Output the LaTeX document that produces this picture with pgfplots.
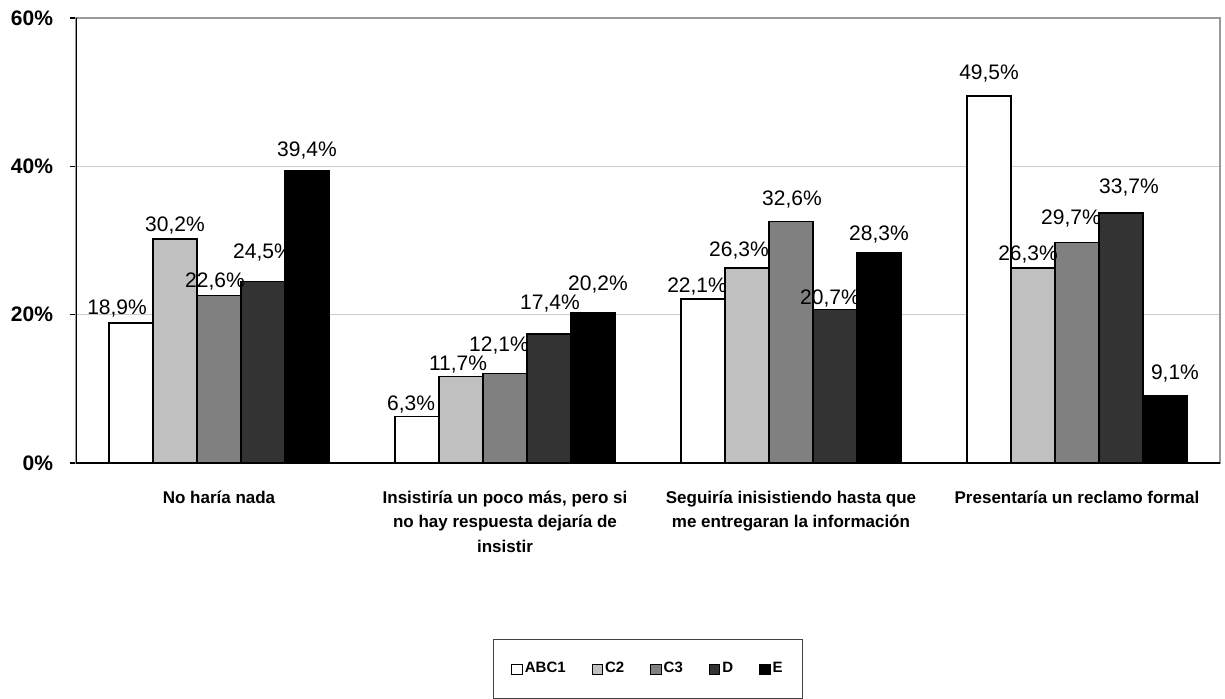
\documentclass[border=0pt]{standalone}
\usepackage{pgfplots}
\pgfplotsset{compat=1.18}
\usepackage{fontspec}
\setmainfont{Liberation Sans}

\definecolor{cC2}{HTML}{C0C0C0}
\definecolor{cC3}{HTML}{808080}
\definecolor{cD}{HTML}{333333}

\begin{document}
\begin{tikzpicture}
% 1 px of the reference = 0.5pt
\useasboundingbox (-38pt,-117.5pt) rectangle (574.5pt,231.5pt);
\begin{axis}[
    scale only axis,
    width=572pt, height=222.5pt,
    ybar=0pt,
    bar width=0.1538,
    xmin=-0.5, xmax=3.5,
    ymin=0, ymax=60,
    xtick={0,1,2,3},
    xtick style={draw=none},
    minor xtick={-0.5,0.5,1.5,2.5,3.5},
    minor tick length=3pt,
    major tick length=3pt,
    tick align=outside,
    xtick pos=bottom, ytick pos=left,
    tick style={black, line width=0.6pt},
    xticklabels={
        {No haría nada},
        {Insistiría un poco más, pero si\\no hay respuesta dejaría de\\insistir},
        {Seguiría inisistiendo hasta que\\me entregaran la información},
        {Presentaría un reclamo formal}},
    xticklabel style={font=\fontsize{8.5}{12.2}\selectfont\bfseries, align=center, yshift=-7.5pt},
    ytick={0,20,40,60},
    yticklabels={0\%,20\%,40\%,60\%},
    yticklabel style={font=\fontsize{10.5}{12}\selectfont\bfseries, xshift=-5pt},
    ymajorgrids,
    grid style={gray!40, line width=0.5pt},
    axis line style={gray!80, line width=0.7pt},
    /pgf/number format/assume math mode=true,
    point meta=y,
    nodes near coords={\pgfmathprintnumber[fixed,fixed zerofill,precision=1,use comma]{\pgfplotspointmeta}\%},
    visualization depends on={value \thisrow{dx}\as\lblx},
    visualization depends on={value \thisrow{dy}\as\lbly},
    every node near coord/.append style={font=\fontsize{10.5}{12}\selectfont, black,
        anchor=base, xshift=\lblx pt, yshift=\lbly pt},
    every axis plot/.append style={draw=black, line width=0.7pt},
    legend columns=-1,
    legend style={at={(0.5,0)}, anchor=north, yshift=-88pt,
        draw=black!75, line width=0.5pt,
        font=\fontsize{7.5}{9}\selectfont\bfseries,
        inner xsep=9pt, inner ysep=10.5pt,
        nodes={inner sep=1pt},
        /tikz/every even column/.append style={column sep=12pt}},
    legend image code/.code={\draw[#1, line width=0.5pt] (0pt,-2.6pt) rectangle (5.2pt,2.6pt);},
]
% dx, dy: label offsets in pt (x from bar centre, y from bar top to baseline)
\addplot[fill=white] table {
x y dx dy
0 18.9 -7 4
1 6.3 -3 3
2 22.1 -3 3.5
3 49.5 0 8
};
\addplot[fill=cC2] table {
x y dx dy
0 30.2 0 4
1 11.7 -1.5 3
2 26.3 -4 5.5
3 26.3 -2.5 3.5
};
\addplot[fill=cC3] table {
x y dx dy
0 22.6 -2 4
1 12.1 -3 11
2 32.6 0.5 8
3 29.7 -3 9
};
\addplot[fill=cD] table {
x y dx dy
0 24.5 0 11.5
1 17.4 0.5 12
2 20.7 -2.5 2.5
3 33.7 4 10
};
\addplot[fill=black] table {
x y dx dy
0 39.4 0 7
1 20.2 2.5 11.5
2 28.3 0 6.5
3 9.1 5 8
};
\legend{ABC1,C2,C3,D,E}
\draw[black, line width=0.8pt] (rel axis cs:0,1) -- (rel axis cs:0,0) -- (rel axis cs:1,0);
\end{axis}
\end{tikzpicture}
\end{document}
